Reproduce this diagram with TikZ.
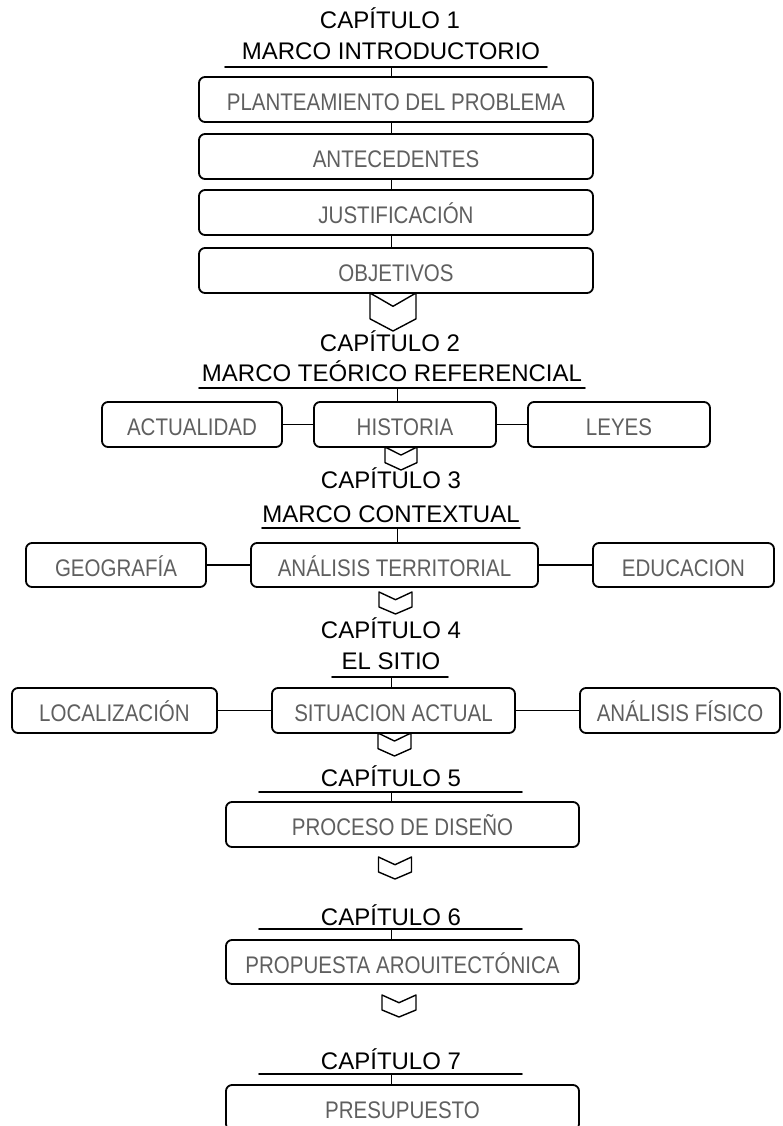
\documentclass[tikz,border=0pt]{standalone}
\usepackage{fontspec}
\setmainfont{Liberation Sans}
\newfontfamily\boxfont[FakeStretch=0.855]{Liberation Sans}
\definecolor{gris}{HTML}{5F5F5F}

\begin{document}
\begin{tikzpicture}[x=1pt, y=-1pt, line join=round, line cap=round,
	caja/.style={draw, rounded corners=6pt, line width=1.8pt, minimum height=45pt, inner sep=0pt, text height=22pt, text depth=0pt, text=gris, font=\boxfont\fontsize{24}{27}\selectfont},
	titulo/.style={anchor=base, inner sep=0pt, font=\fontsize{24}{28}\selectfont},
	linea/.style={line width=1.8pt},
	enlace/.style={line width=1.5pt},
	flecha/.pic={\draw[line width=1.4pt] (-0.5,0)--(0,0.35)--(0.5,0)--(0.5,0.68)--(0,1)--(-0.5,0.68)--cycle;}]
	\useasboundingbox (0,0) rectangle (782,1126);
	\def\wa{394} \def\wb{353} % anchos
	
	% capitulo 1
	\node[titulo] (cap1) at (390,28.5) {CAPÍTULO 1};
	\node[titulo] (mar1) at (391,59.5) {MARCO INTRODUCTORIO};
	\coordinate (u1a) at (225,67); \coordinate (u1b) at (547,67);
	\coordinate (t1) at (391.5,67);
	\draw[linea] (u1a) -- (u1b);
	\node[caja, minimum width=\wa pt] (plan) at (396,99.5) {PLANTEAMIENTO DEL PROBLEMA};
	\node[caja, minimum width=\wa pt] (ante) at (396,156.5) {ANTECEDENTES};
	\node[caja, minimum width=\wa pt] (just) at (396,212.5) {JUSTIFICACIÓN};
	\node[caja, minimum width=\wa pt] (obje) at (396,270.5) {OBJETIVOS};
	\draw[enlace] (t1) -- (t1 |- plan.north);
	\draw[enlace] (t1 |- plan.south) -- (t1 |- ante.north);
	\draw[enlace] (t1 |- ante.south) -- (t1 |- just.north);
	\draw[enlace] (t1 |- just.south) -- (t1 |- obje.north);
	\pic[xscale=46, yscale=38] at (393,293) {flecha};
	
	% capitulo 2
	\node[titulo] (cap2) at (390,351.5) {CAPÍTULO 2};
	\node[titulo] (mar2) at (392,381.5) {MARCO TEÓRICO REFERENCIAL};
	\coordinate (u2a) at (199,388); \coordinate (u2b) at (585,388);
	\coordinate (t2) at (397.5,388);
	\draw[linea] (u2a) -- (u2b);
	\node[caja, minimum width=180pt] (actu) at (192,424.5) {ACTUALIDAD};
	\node[caja, minimum width=182pt] (hist) at (405,424.5) {HISTORIA};
	\node[caja, minimum width=182pt] (leye) at (619,424.5) {LEYES};
	\draw[enlace] (t2) -- (t2 |- hist.north);
	\draw[linea] (actu) -- (hist);
	\draw[linea] (hist) -- (leye);
	\pic[xscale=32, yscale=23] at (401,447) {flecha};
	
	% capitulo 3
	\node[titulo] (cap3) at (391,488.5) {CAPÍTULO 3};
	\node[titulo] (mar3) at (391,522.5) {MARCO CONTEXTUAL};
	\coordinate (u3a) at (262,528); \coordinate (u3b) at (520,528);
	\coordinate (t3) at (397.5,528);
	\draw[linea] (u3a) -- (u3b);
	\node[caja, minimum width=180pt, minimum height=44pt] (geog) at (116,565) {GEOGRAFÍA};
	\node[caja, minimum width=287pt, minimum height=44pt] (terr) at (394.5,565) {ANÁLISIS TERRITORIAL};
	\node[caja, minimum width=181pt, minimum height=44pt] (educ) at (683.5,565) {EDUCACION};
	\draw[enlace] (t3) -- (t3 |- terr.north);
	\draw[linea] (geog) -- (terr);
	\draw[linea] (terr) -- (educ);
	\pic[xscale=33, yscale=22] at (395.5,592) {flecha};
	
	% capitulo 4
	\node[titulo] (cap4) at (391,638.5) {CAPÍTULO 4};
	\node[titulo] (mar4) at (391,669.5) {EL SITIO};
	\coordinate (u4a) at (332,677); \coordinate (u4b) at (448,677);
	\coordinate (t4) at (391.5,677);
	\draw[linea] (u4a) -- (u4b);
	\node[caja, minimum width=205pt] (loca) at (114.5,710.5) {LOCALIZACIÓN};
	\node[caja, minimum width=243pt] (situ) at (393.5,710.5) {SITUACION ACTUAL};
	\node[caja, minimum width=200pt] (fisi) at (680,710.5) {ANÁLISIS FÍSICO};
	\draw[enlace] (t4) -- (t4 |- situ.north);
	\draw[linea] (loca) -- (situ);
	\draw[linea] (situ) -- (fisi);
	\pic[xscale=33, yscale=23] at (394.5,733) {flecha};
	
	% capitulo 5
	\node[titulo] (cap5) at (391,786.5) {CAPÍTULO 5};
	\coordinate (u5a) at (259,792); \coordinate (u5b) at (522,792);
	\coordinate (t5) at (391.5,792);
	\draw[linea] (u5a) -- (u5b);
	\node[caja, minimum width=\wb pt] (dise) at (402.5,824.5) {PROCESO DE DISEÑO};
	\draw[enlace] (t5) -- (t5 |- dise.north);
	\pic[xscale=33, yscale=22] at (395,857) {flecha};
	
	% capitulo 6
	\node[titulo] (cap6) at (391,925.5) {CAPÍTULO 6};
	\coordinate (u6a) at (259,929); \coordinate (u6b) at (522,929);
	\coordinate (t6) at (391.5,929);
	\draw[linea] (u6a) -- (u6b);
	\node[caja, minimum width=\wb pt, minimum height=44pt] (prop) at (402.5,962) {PROPUESTA AROUITECTÓNICA};
	\draw[enlace] (t6) -- (t6 |- prop.north);
	\pic[xscale=34, yscale=22] at (399,995) {flecha};
	
	% capitulo 7
	\node[titulo] (cap7) at (391,1069) {CAPÍTULO 7};
	\coordinate (u7a) at (259,1074); \coordinate (u7b) at (522,1074);
	\coordinate (t7) at (391.5,1074);
	\draw[linea] (u7a) -- (u7b);
	\node[caja, minimum width=\wb pt] (pres) at (402.5,1107.5) {PRESUPUESTO};
	\draw[enlace] (t7) -- (t7 |- pres.north);
\end{tikzpicture}
\end{document}
